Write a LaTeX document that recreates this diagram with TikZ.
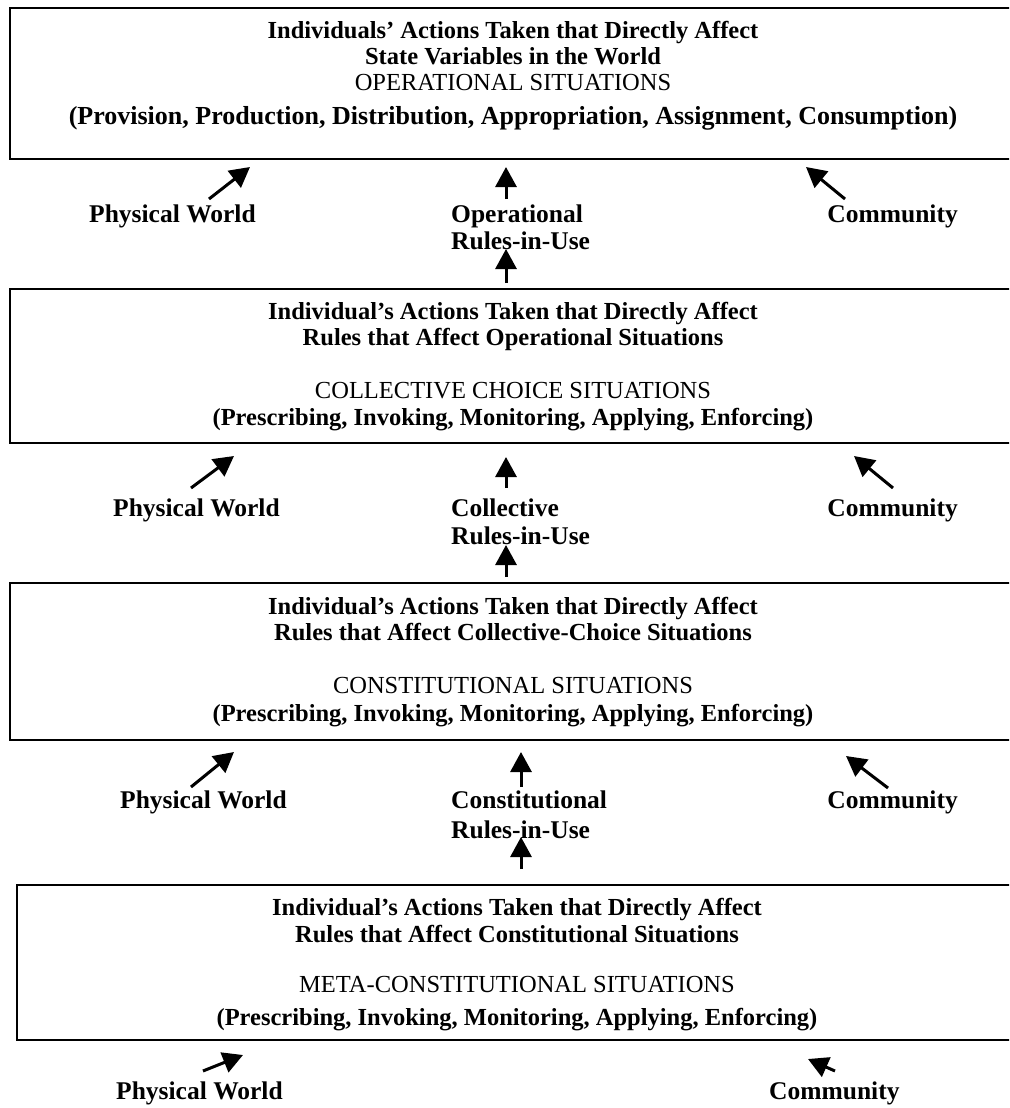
\documentclass[tikz,border=0pt]{standalone}
\usepackage{fontspec}
\setmainfont{Liberation Serif}
\usetikzlibrary{arrows.meta}
\begin{document}
\begin{tikzpicture}[x=1pt,y=-1pt,
  boxstyle/.style={draw, line width=2.5pt, inner sep=0pt, outer sep=0pt, anchor=north west},
  bt/.style={font=\fontsize{24.5}{26}\selectfont\bfseries, inner sep=0pt, text height=17pt, text depth=5pt},
  ct/.style={font=\fontsize{24.5}{26}\selectfont, inner sep=0pt, text height=17pt, text depth=5pt},
  lab/.style={font=\fontsize{25.5}{27}\selectfont\bfseries, inner sep=0pt, text height=17pt, text depth=5pt},
  arr/.style={line width=3pt, -{Triangle[length=20pt,width=21pt]}}]
\clip (0,0) rectangle (1009,1108);
\fill[white] (0,0) rectangle (1009,1108);

% boxes
\node[boxstyle, minimum width=1010pt, minimum height=151pt] (b1) at (10,8) {};
\node[boxstyle, minimum width=1010pt, minimum height=154pt] (b2) at (10,289) {};
\node[boxstyle, minimum width=1010pt, minimum height=157pt] (b3) at (10,583) {};
\node[boxstyle, minimum width=1003pt, minimum height=155pt] (b4) at (17,885) {};

% box 1 text
\node[bt] (t11) at (513,33) {Individuals’ Actions Taken that Directly Affect};
\node[bt] (t12) at (513,58) {State Variables in the World};
\node[ct] (t13) at (513,84) {OPERATIONAL SITUATIONS};
\node[bt, font=\fontsize{26}{28}\selectfont\bfseries] (t14) at (513,118) {(Provision, Production, Distribution, Appropriation, Assignment, Consumption)};

% box 2 text
\node[bt] (t21) at (513,313) {Individual’s Actions Taken that Directly Affect};
\node[bt] (t22) at (513,339) {Rules that Affect Operational Situations};
\node[ct] (t23) at (513,392) {COLLECTIVE CHOICE SITUATIONS};
\node[bt] (t24) at (513,419) {(Prescribing, Invoking, Monitoring, Applying, Enforcing)};

% box 3 text
\node[bt] (t31) at (513,608) {Individual’s Actions Taken that Directly Affect};
\node[bt] (t32) at (513,634) {Rules that Affect Collective-Choice Situations};
\node[ct] (t33) at (513,687) {CONSTITUTIONAL SITUATIONS};
\node[bt] (t34) at (513,715) {(Prescribing, Invoking, Monitoring, Applying, Enforcing)};

% box 4 text
\node[bt] (t41) at (517,909) {Individual’s Actions Taken that Directly Affect};
\node[bt] (t42) at (517,936) {Rules that Affect Constitutional Situations};
\node[ct] (t43) at (517,986) {META-CONSTITUTIONAL SITUATIONS};
\node[bt] (t44) at (517,1019) {(Prescribing, Invoking, Monitoring, Applying, Enforcing)};

% row 1 labels
\node[lab, anchor=west] (pw1) at (89,216) {Physical World};
\node[lab, anchor=west] (op1) at (451,216) {Operational};
\node[lab, anchor=west] (ru1) at (451,243) {Rules-in-Use};
\node[lab, anchor=east] (co1) at (958,216) {Community};
% row 2 labels
\node[lab, anchor=west] (pw2) at (113,510) {Physical World};
\node[lab, anchor=west] (op2) at (451,510) {Collective};
\node[lab, anchor=west] (ru2) at (451,538) {Rules-in-Use};
\node[lab, anchor=east] (co2) at (958,510) {Community};
% row 3 labels
\node[lab, anchor=west] (pw3) at (120,802) {Physical World};
\node[lab, anchor=west] (op3) at (451,802) {Constitutional};
\node[lab, anchor=west] (ru3) at (451,832) {Rules-in-Use};
\node[lab, anchor=east] (co3) at (958,802) {Community};
% row 4 labels
\node[lab, anchor=west] (pw4) at (116,1093) {Physical World};
\node[lab, anchor=west] (co4) at (769,1093) {Community};

% arrow end points
\coordinate (a1s) at (209,199); \coordinate (a1e) at (250,167);
\coordinate (m1s) at (506,199); \coordinate (m1e) at (506,167);
\coordinate (c1s) at (845,199); \coordinate (c1e) at (806,167);
\coordinate (l1s) at (506,283); \coordinate (l1e) at (506,249);

\coordinate (a2s) at (191,488); \coordinate (a2e) at (234,456);
\coordinate (m2s) at (506,488); \coordinate (m2e) at (506,457);
\coordinate (c2s) at (893,488); \coordinate (c2e) at (854,456);
\coordinate (l2s) at (506,577); \coordinate (l2e) at (506,545);

\coordinate (a3s) at (191,787); \coordinate (a3e) at (234,752);
\coordinate (m3s) at (521,787); \coordinate (m3e) at (521,752);
\coordinate (c3s) at (888,788); \coordinate (c3e) at (846,756);
\coordinate (l3s) at (521,869); \coordinate (l3e) at (521,837);

\coordinate (a4s) at (203,1071); \coordinate (a4e) at (243,1055);
\coordinate (c4s) at (835,1071); \coordinate (c4e) at (808,1059);

\foreach \p in {a1,m1,c1,l1,a2,m2,c2,l2,a3,m3,c3,l3,a4,c4}
  \draw[arr] (\p s) -- (\p e);
\end{tikzpicture}
\end{document}
